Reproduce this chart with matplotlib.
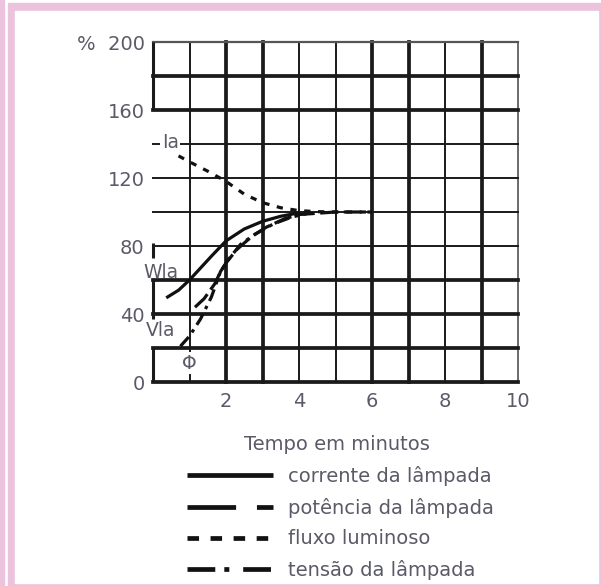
import numpy as np
import matplotlib.pyplot as plt
from matplotlib.lines import Line2D
from matplotlib.patches import Rectangle

plt.rcParams['font.family'] = ['DejaVu Sans']
plt.rcParams['lines.scale_dashes'] = False

# curves: time in minutes, value in %
ia_t = [0.7, 1.0, 1.5, 2.0, 2.5, 3.0, 3.5, 4.0, 4.5, 5.0, 6.0]
ia_v = [133, 129.5, 124, 118, 110.5, 105.5, 102.5, 100.8, 100.2, 100, 100]

wla_t = [0.4, 0.7, 1.0, 1.3, 1.6, 2.0, 2.5, 3.0, 3.5, 4.0]
wla_v = [50, 54, 60, 67, 74, 83, 90, 94.5, 97.5, 99.5]

vla_t = [1.15, 1.4, 1.7, 1.85, 2.0, 2.3, 2.7, 3.1, 3.6, 4.0, 5.0, 6.0]
vla_v = [44, 49, 58, 65, 70, 78, 85.5, 91, 96, 98.5, 100, 100]

phi_t = [0.75, 1.0, 1.3, 1.6, 1.85, 2.1, 2.4, 2.8, 3.3, 3.8, 4.2]
phi_v = [21, 27, 37, 50, 65, 73, 81, 87, 93, 97, 99]

x_ticks = [2, 4, 6, 8, 10]
y_ticks = [0, 40, 80, 120, 160, 200]
y_labels = ['0', '40', '80', '120', '160', '%  200']

legend_labels = ['corrente da lâmpada', 'potência da lâmpada',
                 'fluxo luminoso', 'tensão da lâmpada']

PINK = '#ecc3dc'
TXT = '#5a5a68'
W, H = 601, 586

fig = plt.figure(figsize=(W / 100, H / 100), dpi=100)


def fx(px):
    return px / W


def fy(py):
    return 1 - py / H


# pink page frame (behind everything)
fig.add_artist(Rectangle((0, 0), fx(4), 1, color=PINK, transform=fig.transFigure, zorder=-10))
fig.add_artist(Rectangle((fx(8), 0), 1, fy(3), color=PINK, transform=fig.transFigure, zorder=-10))
fig.add_artist(Rectangle((fx(15), fy(583)), fx(598) - fx(15), fy(11) - fy(583),
                         color='white', transform=fig.transFigure, zorder=-9))

ax = fig.add_axes([fx(153), fy(382), fx(518) - fx(153), fy(42) - fy(382)])
ax.set_xlim(0, 10)
ax.set_ylim(0, 200)
ax.patch.set_visible(False)
for s in ax.spines.values():
    s.set_visible(False)

# grid: some lines heavier than others, as in the printed chart
thick_x = [2, 3, 6, 7, 9]
thick_y = [0, 20, 40, 60, 160, 180]
for x in range(1, 10):
    ax.axvline(x, color='#1a1a1a', lw=2.7 if x in thick_x else 1.4, clip_on=False, zorder=1)
ax.axvline(10, color='#6a6a6a', lw=1.4, clip_on=False, zorder=1)
for y in range(0, 200, 20):
    ax.axhline(y, color='#1a1a1a', lw=2.7 if y in thick_y else 1.4, clip_on=False, zorder=1)
ax.axhline(200, color='#555555', lw=1.6, clip_on=False, zorder=1)
# left edge is only partly drawn
for lo, hi in [(160, 200), (73, 82), (37, 60), (0, 20)]:
    ax.vlines(0, lo, hi, color='#1a1a1a', lw=2.2, clip_on=False, zorder=1)

# curves
ax.plot(ia_t, ia_v, color='#111111', lw=2.3, dashes=(4.5, 5.5), zorder=3)
ax.plot(wla_t, wla_v, color='#111111', lw=2.3, zorder=3)
ax.plot(vla_t, vla_v, color='#111111', lw=2.3, dashes=(13, 4), zorder=3)
ax.plot(phi_t, phi_v, color='#111111', lw=2.3, dashes=(9, 4, 2.5, 4), zorder=3)

# curve labels
box = dict(fc='white', ec='none', pad=1.2)
ax.text(0.47, 141, 'Ia', fontsize=13.5, color=TXT, ha='center', va='center', bbox=box, zorder=5)
ax.text(0.22, 64.5, 'Wla', fontsize=13.5, color=TXT, ha='center', va='center', zorder=5)
ax.text(0.22, 30.5, 'Vla', fontsize=13.5, color=TXT, ha='center', va='center', zorder=5)
ax.text(0.99, 11, 'Φ', fontsize=13.5, color=TXT, ha='center', va='center', bbox=box, zorder=5)

ax.set_xticks(x_ticks)
ax.set_yticks(y_ticks)
ax.set_yticklabels(y_labels)
ax.tick_params(length=0, labelsize=14, labelcolor=TXT)
ax.tick_params(axis='y', pad=6)
ax.tick_params(axis='x', pad=7)
ax.set_xlabel('Tempo em minutos', fontsize=14, color=TXT)
ax.xaxis.set_label_coords(0.505, -0.155)

handles = [
    Line2D([], [], color='#111111', lw=3.4, solid_capstyle='butt'),
    Line2D([], [], color='#111111', lw=3.4, dashes=(35, 15), dash_capstyle='butt'),
    Line2D([], [], color='#111111', lw=3.4, dashes=(8.3, 8.3), dash_capstyle='butt'),
    Line2D([], [], color='#111111', lw=3.4, dashes=(20, 6.5, 3.6, 10), dash_capstyle='butt'),
]
leg = fig.legend(handles, legend_labels, loc='upper left',
                 bbox_to_anchor=(fx(187), fy(466)), frameon=False, fontsize=14,
                 handlelength=4.43, handletextpad=0.75, labelspacing=0.6,
                 borderpad=0, borderaxespad=0)
for t in leg.get_texts():
    t.set_color(TXT)

fig.savefig('out.png', dpi=100)
